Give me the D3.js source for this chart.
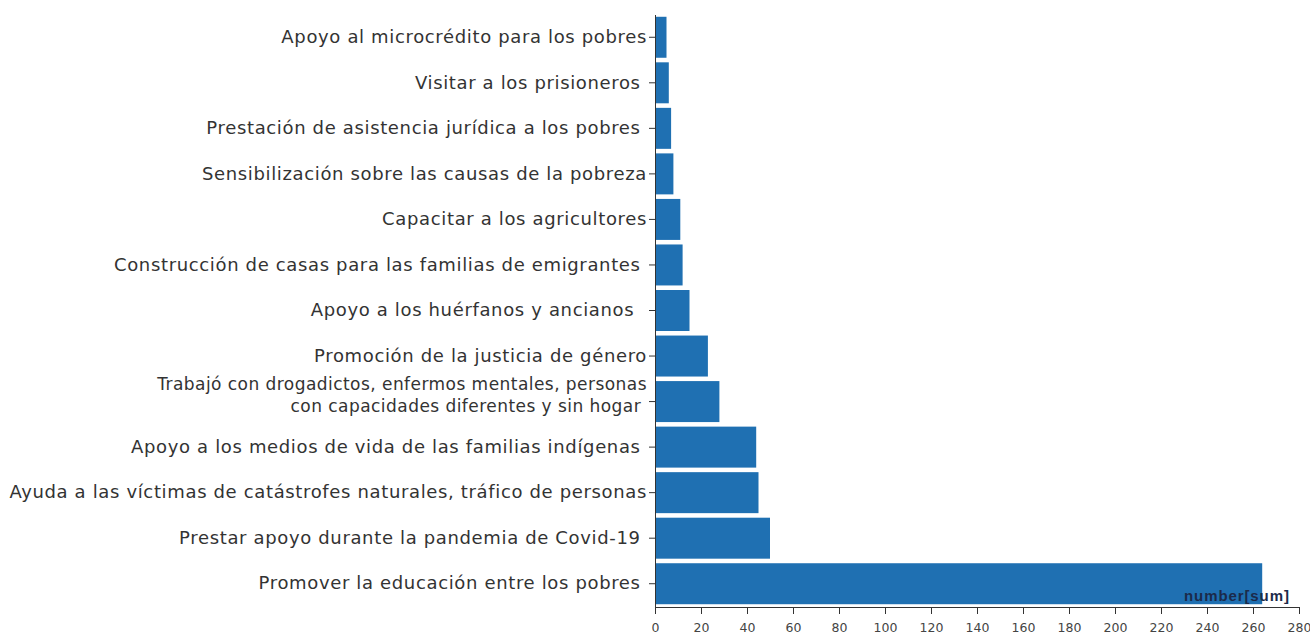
<!DOCTYPE html>
<html>
<head>
<meta charset="utf-8">
<script src="https://cdn.jsdelivr.net/npm/d3@7"></script>
<style>
  html, body { margin: 0; padding: 0; background: #fff; }
  svg { display: block; }
  .ylab text { white-space: pre; }
</style>
</head>
<body>
<svg id="chart" width="1310" height="635"></svg>
<script>
// Categories (top to bottom) and their sums
const categories = [
  "Apoyo al microcrédito para los pobres",
  "Visitar a los prisioneros ",
  "Prestación de asistencia jurídica a los pobres ",
  "Sensibilización sobre las causas de la pobreza",
  "Capacitar a los agricultores",
  "Construcción de casas para las familias de emigrantes ",
  "Apoyo a los huérfanos y ancianos  ",
  "Promoción de la justicia de género",
  "Trabajó con drogadictos, enfermos mentales, personas\ncon capacidades diferentes y sin hogar ",
  "Apoyo a los medios de vida de las familias indígenas ",
  "Ayuda a las víctimas de catástrofes naturales, tráfico de personas",
  "Prestar apoyo durante la pandemia de Covid-19 ",
  "Promover la educación entre los pobres "
];
const values = [5, 6, 7, 8, 11, 12, 15, 23, 28, 44, 45, 50, 264];
const xTicks = [0, 20, 40, 60, 80, 100, 120, 140, 160, 180, 200, 220, 240, 260, 280];
const measureLabel = "number[sum]";

const svg = d3.select("#chart");
const mLeft = 655, mRight = 1299, mTop = 14.5, mBottom = 606.5;

const x = d3.scaleLinear().domain([0, 280]).range([mLeft, mRight]);
const y = d3.scaleBand().domain(categories).range([mTop, mBottom])
  .paddingInner(0.1).paddingOuter(0.05);

// bars
svg.append("g").selectAll("rect")
  .data(categories.map((c, i) => ({c, v: values[i]})))
  .join("rect")
  .attr("x", x(0))
  .attr("y", d => y(d.c))
  .attr("width", d => x(d.v) - x(0))
  .attr("height", y.bandwidth())
  .attr("fill", "#1f70b2");

// x axis
const xg = svg.append("g")
  .attr("transform", `translate(0,${mBottom + 0.5})`)
  .call(d3.axisBottom(x).tickValues(xTicks).tickSize(7).tickPadding(9).tickSizeOuter(7));
xg.selectAll("text").attr("font-family", "DejaVu Sans, sans-serif")
  .attr("font-size", 12.5).attr("fill", "#444");
xg.selectAll("line, path").attr("stroke", "#333");

// y axis
const yg = svg.append("g").attr("class", "ylab")
  .attr("transform", `translate(${mLeft},0)`)
  .call(d3.axisLeft(y).tickSize(6).tickPadding(2).tickSizeOuter(0));
yg.selectAll("line, path").attr("stroke", "#333");
yg.selectAll("text")
  .attr("font-family", "DejaVu Sans, sans-serif")
  .attr("font-size", 18)
  .attr("letter-spacing", 0.65)
  .attr("fill", "#333")
  .each(function(d) {
    const lines = d.split("\n");
    if (lines.length > 1) {
      const t = d3.select(this);
      t.text(null).attr("dy", null)
        .attr("font-size", 17).attr("letter-spacing", 0.45);
      const xx = t.attr("x");
      t.append("tspan").attr("x", xx).attr("dy", "-0.95em").text(lines[0]);
      t.append("tspan").attr("x", xx).attr("dy", "1.25em").text(lines[1]);
      t.attr("y", 5);
    }
  });

// measure label
svg.append("text")
  .attr("x", x(276))
  .attr("y", mBottom - 6)
  .attr("text-anchor", "end")
  .attr("font-family", "Liberation Sans, Arial, sans-serif")
  .attr("font-weight", "bold")
  .attr("font-size", 15)
  .attr("letter-spacing", 0.9)
  .attr("fill", "#1b2a4a")
  .text(measureLabel);
</script>
</body>
</html>
